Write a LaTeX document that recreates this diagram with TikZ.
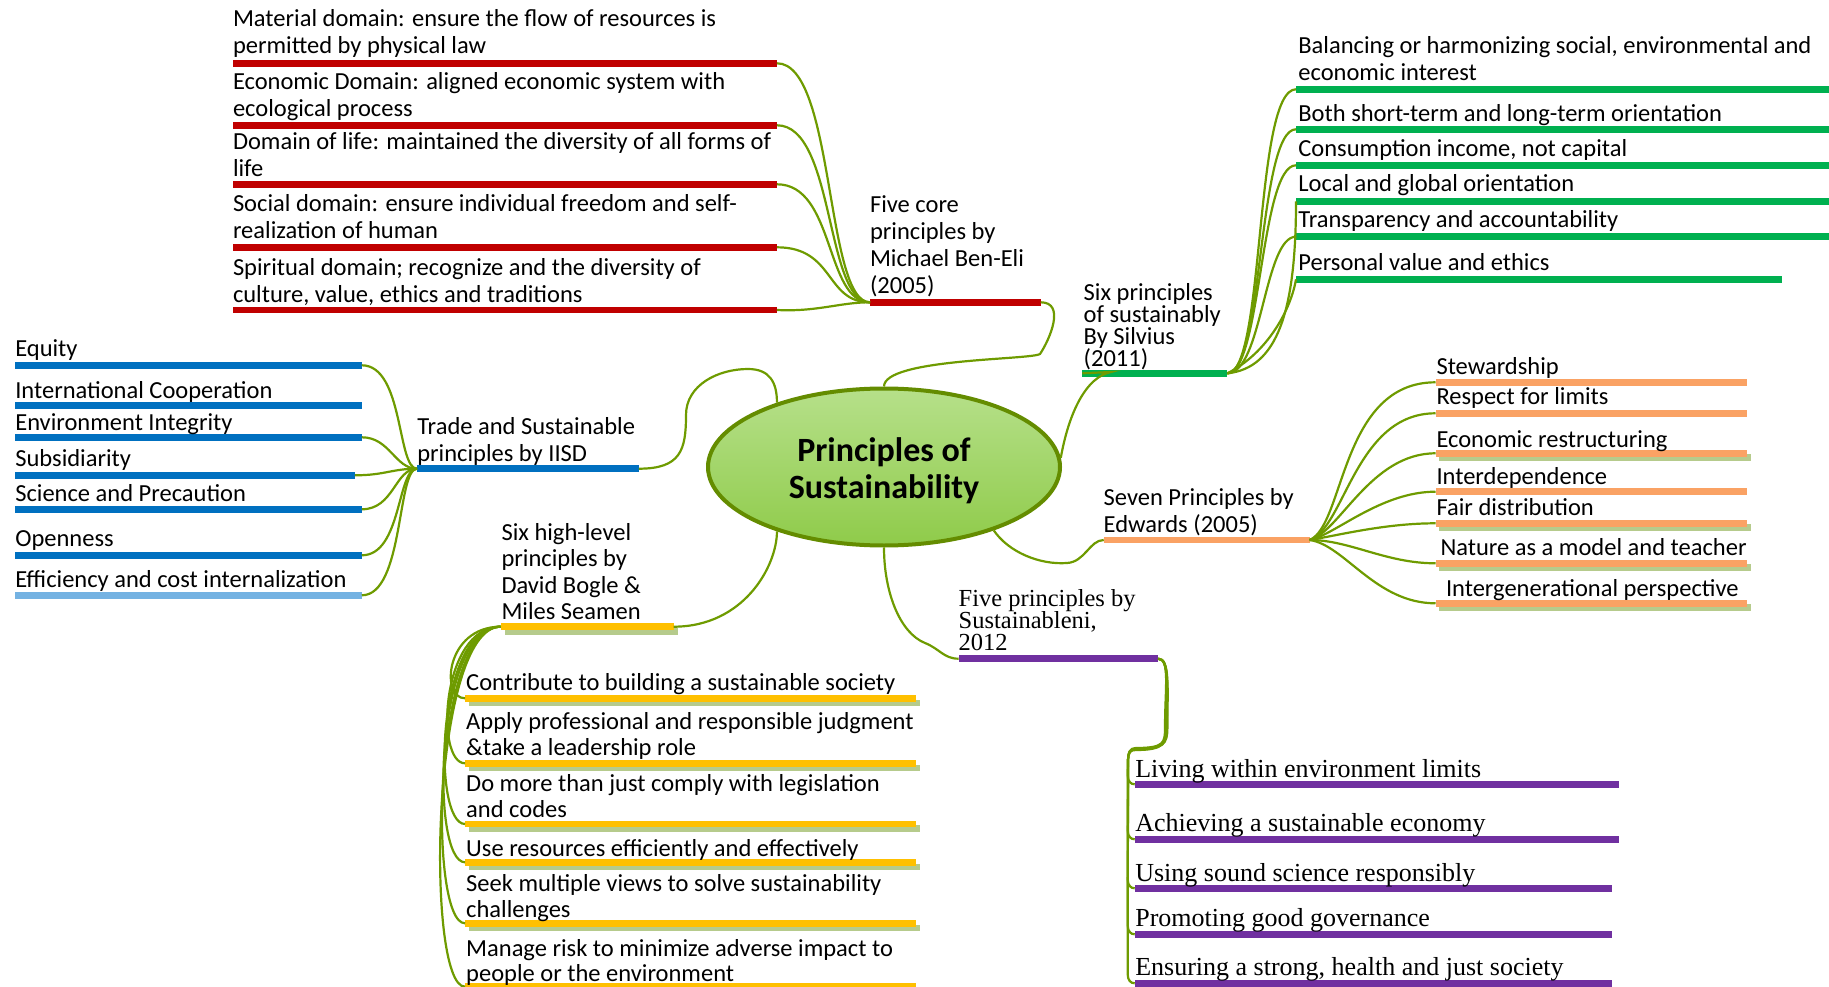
\documentclass[tikz,border=0pt]{standalone}
\usepackage{fontspec}
\setmainfont{Carlito}
\newfontfamily\serifface{Liberation Serif}
\usetikzlibrary{shapes.geometric,calc}

\definecolor{linkgreen}{HTML}{6E9B00}
\definecolor{rootrim}{HTML}{648C00}
\definecolor{rootlight}{HTML}{B6E08A}
\definecolor{rootdark}{HTML}{8FCB4A}
\definecolor{benred}{HTML}{C00000}
\definecolor{iisdblue}{HTML}{0070C0}
\definecolor{iisdlight}{HTML}{74B2E2}
\definecolor{silgreen}{HTML}{00B050}
\definecolor{edorange}{HTML}{FAA264}
\definecolor{bogyellow}{HTML}{FFC000}
\definecolor{snpurple}{HTML}{7030A0}
\definecolor{barshadow}{HTML}{B6CB8C}

% stacked lines with a fixed line pitch; baseline = last line
\newcommand\txtlines[1]{\vbox{\lineskiplimit=-\maxdimen\lineskip=0pt\let\\\cr\halign{##\hfil\cr#1\crcr}}}

\tikzset{
  link/.style={draw=linkgreen, line width=2.2pt},
  barnode/.style={draw=none, inner sep=0pt, outer sep=0pt, minimum height=6.5pt, anchor=west},
  txt/.style={anchor=base west, inner sep=0pt, outer sep=0pt, yshift=-1.5pt, font=\fontsize{24.5}{27}\selectfont},
  tighttxt/.style={txt, font=\fontsize{24.5}{22}\selectfont},
  sntxt/.style={txt, font=\serifface\fontsize{26}{21.7}\selectfont},
  snhead/.style={txt, font=\serifface\fontsize{24.5}{22}\selectfont},
  rootnode/.style={ellipse, minimum width=352pt, minimum height=157pt, inner sep=0pt,
    line width=4pt, draw=rootrim, top color=rootlight, bottom color=rootdark},
  roottext/.style={align=center, inner sep=0pt, font=\fontsize{34}{37}\selectfont\bfseries},
}

\begin{document}
\begin{tikzpicture}[x=1pt,y=-1pt]
\useasboundingbox (0,0) rectangle (1829,987);

% ---------- centre ----------
\node[rootnode] (root) at (884,467) {};
\node[roottext] (roott) at (884,471) {Principles of\\Sustainability};

% ---------- Ben-Eli (red) ----------
\node[barnode, fill=benred, minimum width=170.7pt] (be) at (870,302.3) {};
\node[txt] (bet) at (870,292) {\txtlines{Five core\\principles by\\Michael Ben-Eli\\(2005)}};

\node[barnode, fill=benred, minimum width=544pt] (r1) at (233,63.3) {};
\node[barnode, fill=benred, minimum width=544pt] (r2) at (233,125.3) {};
\node[barnode, fill=benred, minimum width=544pt] (r3) at (233,184.3) {};
\node[barnode, fill=benred, minimum width=544pt] (r4) at (233,247.3) {};
\node[barnode, fill=benred, minimum width=544pt] (r5) at (233,310) {};
\node[txt] (r1t) at (233,52) {\txtlines{Material domain: ensure the flow of resources is\\permitted by physical law}};
\node[txt] (r2t) at (233,115.3) {\txtlines{Economic Domain: aligned economic system with\\ecological process}};
\node[txt] (r3t) at (233,175.3) {\txtlines{Domain of life: maintained the diversity of all forms of\\life}};
\node[txt] (r4t) at (233,237) {\txtlines{Social domain: ensure individual freedom and self-\\realization of human}};
\node[txt] (r5t) at (233,301.3) {\txtlines{Spiritual domain; recognize and the diversity of\\culture, value, ethics and traditions}};

\foreach \c in {r1,r2,r3,r4}
  \draw[link] (\c.east) .. controls +(58,0) and +(-45,0) .. (be.west);
\draw[link] (r5.east) .. controls +(40,2) and +(-30,0) .. (be.west);
\draw[link] (be.east) .. controls +(25,0) and +(10,-15) .. (1040,354)
  .. controls +(-10,6) and +(0,-28) .. (root.north);

% ---------- Silvius (green) ----------
\node[barnode, fill=silgreen, minimum width=145pt] (sv) at (1082.3,373.3) {};
\node[tighttxt] (svt) at (1083.7,365.3) {\txtlines{Six principles\\of sustainably\\By Silvius\\(2011)}};

\node[barnode, fill=silgreen, minimum width=533pt] (g1) at (1296,89.3) {};
\node[barnode, fill=silgreen, minimum width=533pt] (g2) at (1296,129.3) {};
\node[barnode, fill=silgreen, minimum width=533pt] (g3) at (1296,165.3) {};
\node[barnode, fill=silgreen, minimum width=533pt] (g4) at (1296,201.3) {};
\node[barnode, fill=silgreen, minimum width=533pt] (g5) at (1296,236.7) {};
\node[barnode, fill=silgreen, minimum width=485.7pt] (g6) at (1296,279.3) {};
\node[txt] (g1t) at (1298.4,79.3) {\txtlines{Balancing or harmonizing social, environmental and\\economic interest}};
\node[txt] (g2t) at (1298.4,119.7) {Both short-term and long-term orientation};
\node[txt] (g3t) at (1298.4,154.7) {Consumption income, not capital};
\node[txt] (g4t) at (1298.4,190.3) {Local and global orientation};
\node[txt] (g5t) at (1298.4,226) {Transparency and accountability};
\node[txt] (g6t) at (1298.4,269.3) {Personal value and ethics};

\draw[link] (sv.east) .. controls +(38,0) and +(-42,0) .. (g1.west);
\draw[link] (sv.east) .. controls +(36,0) and +(-38,0) .. (g2.west);
\draw[link] (sv.east) .. controls +(34,0) and +(-36,0) .. (g3.west);
\draw[link] (sv.east) .. controls +(50,-5) and +(0,110) .. (g4.west);
\draw[link] (sv.east) .. controls +(35,0) and +(-32,0) .. (g5.west);
\draw[link] (sv.east) .. controls +(40,-20) and +(-5,30) .. (g6.west);
\draw[link] (root.3) .. controls +(8,-45) and +(-25,5) .. (1111,372) -- (sv.west);

% ---------- IISD (blue) ----------
\node[barnode, fill=iisdblue, minimum width=221.8pt] (td) at (417,468.7) {};
\node[txt] (tdt) at (417.3,459.7) {\txtlines{Trade and Sustainable\\principles by IISD}};

\node[barnode, fill=iisdblue, minimum width=347pt] (b1) at (14.8,365.3) {};
\node[barnode, fill=iisdblue, minimum width=347pt] (b2) at (14.8,405.7) {};
\node[barnode, fill=iisdblue, minimum width=347pt] (b3) at (14.8,437.3) {};
\node[barnode, fill=iisdblue, minimum width=340pt] (b4) at (14.8,475.3) {};
\node[barnode, fill=iisdblue, minimum width=347pt] (b5) at (14.8,509.3) {};
\node[barnode, fill=iisdblue, minimum width=347pt] (b6) at (14.8,555.3) {};
\node[barnode, fill=iisdlight, minimum width=347pt] (b7) at (14.8,595.3) {};
\node[txt] (b1t) at (15.3,355.3) {Equity};
\node[txt] (b2t) at (15.3,397) {International Cooperation};
\node[txt] (b3t) at (15.3,428.7) {Environment Integrity};
\node[txt] (b4t) at (15.3,465.3) {Subsidiarity};
\node[txt] (b5t) at (15.3,499.7) {Science and Precaution};
\node[txt] (b6t) at (15.3,545.3) {Openness};
\node[txt] (b7t) at (15.3,586.3) {Efficiency and cost internalization};

\draw[link] (b1.east) .. controls +(42,0) and +(-20,0) .. (td.west);
\draw[link] (b3.east) .. controls +(28,0) and +(-22,0) .. (td.west);
\draw[link] (b4.east) .. controls +(30,0) and +(-25,0) .. (td.west);
\draw[link] (b5.east) .. controls +(32,0) and +(-22,0) .. (td.west);
\draw[link] (b6.east) .. controls +(40,0) and +(-20,0) .. (td.west);
\draw[link] (b7.east) .. controls +(42,0) and +(-20,0) .. (td.west);
\draw[link] (td.east) .. controls +(42,0) and +(0,35) .. (686,415)
  .. controls +(0,-30) and +(-30,0) .. (748,369)
  .. controls +(22,0) and +(0,-20) .. (root.149);

% ---------- Bogle & Seamen (yellow) ----------
\node[barnode, fill=barshadow, minimum width=173pt] (bgs) at (504.8,631.4) {};
\node[barnode, fill=bogyellow, minimum width=173pt] (bg) at (500.6,626.7) {};
\node[txt, font=\fontsize{24.5}{26.5}\selectfont] (bgt) at (501.5,618) {\txtlines{Six high-level\\principles by\\David Bogle \&\\Miles Seamen}};

\foreach \n/\y in {y1/698.3, y2/763.3, y3/824, y4/862.3, y5/923.3, y6/986.7}{
  \node[barnode, fill=barshadow, minimum width=450.5pt] (\n s) at (469.2,\y+4.7) {};
  \node[barnode, fill=bogyellow, minimum width=450.5pt] (\n) at (465,\y) {};
}
\node[txt] (y1t) at (466.2,689.3) {Contribute to building a sustainable society};
\node[txt, font=\fontsize{24.5}{26}\selectfont] (y2t) at (466.2,753.7) {\txtlines{Apply professional and responsible judgment\\\&take a leadership role}};
\node[txt, font=\fontsize{24.5}{26.6}\selectfont] (y3t) at (466.2,816.3) {\txtlines{Do more than just comply with legislation\\and codes}};
\node[txt] (y4t) at (466.2,854.7) {Use resources efficiently and effectively};
\node[txt, font=\fontsize{24.5}{26.6}\selectfont] (y5t) at (466.2,916.3) {\txtlines{Seek multiple views to solve sustainability\\challenges}};
\node[txt, font=\fontsize{24.5}{25.6}\selectfont] (y6t) at (466.2,980.3) {\txtlines{Manage risk to minimize adverse impact to\\people or the environment}};

\draw[link] (bg.west) .. controls +(-55,0) and +(-25,0) .. (y1.west);
\draw[link] (bg.west) .. controls +(-60,0) and +(-30,0) .. (y2.west);
\draw[link] (bg.west) .. controls +(-65,0) and +(-33,0) .. (y3.west);
\draw[link] (bg.west) .. controls +(-66,0) and +(-35,0) .. (y4.west);
\draw[link] (bg.west) .. controls +(-68,0) and +(-37,0) .. (y5.west);
\draw[link] (bg.west) .. controls +(-70,0) and +(-40,0) .. (y6.west);
\draw[link] (bg.east) .. controls +(70,0) and +(0,35) .. (root.211);

% ---------- Edwards (orange) ----------
\node[barnode, fill=edorange, minimum width=206pt] (ed) at (1103.7,540) {};
\node[txt] (edt) at (1103.7,531.3) {\txtlines{Seven Principles by\\Edwards (2005)}};

\foreach \n/\y in {o3/453.3, o5/523.3, o6/563.3, o7/603.3}
  \node[barnode, fill=barshadow, minimum width=311.5pt] (\n s) at (1439,\y+4) {};
\foreach \n/\y in {o1/382.3, o2/413.3, o3/453.3, o4/491.7, o5/523.3, o6/563.3, o7/603.3}
  \node[barnode, fill=edorange, minimum width=311.5pt] (\n) at (1435.5,\y) {};
\node[txt] (o1t) at (1436.5,372.7) {Stewardship};
\node[txt] (o2t) at (1436.5,403) {Respect for limits};
\node[txt] (o3t) at (1436.5,446) {Economic restructuring};
\node[txt] (o4t) at (1436.5,482.7) {Interdependence};
\node[txt] (o5t) at (1436.5,514.3) {Fair distribution};
\node[txt] (o6t) at (1440.5,553.7) {Nature as a model and teacher};
\node[txt] (o7t) at (1446,594.7) {Intergenerational perspective};

\draw[link] (ed.east) .. controls +(35,-15) and +(-95,0) .. (o1.west);
\draw[link] (ed.east) .. controls +(35,-12) and +(-80,0) .. (o2.west);
\draw[link] (ed.east) .. controls +(30,-8) and +(-65,0) .. (o3.west);
\draw[link] (ed.east) .. controls +(25,-5) and +(-55,0) .. (o4.west);
\draw[link] (ed.east) .. controls +(30,-5) and +(-50,0) .. (o5.west);
\draw[link] (ed.east) .. controls +(40,0) and +(-50,0) .. (o6.west);
\draw[link] (ed.east) .. controls +(35,5) and +(-60,0) .. (o7.west);
\draw[link] (root.330) .. controls +(15,22) and +(-27,2) .. (1067,563)
  .. controls +(18,-1) and +(-14,0) .. (ed.west);

% ---------- Sustainableni (purple) ----------
\node[barnode, fill=snpurple, minimum width=199.5pt] (sn) at (958.7,658.7) {};
\node[snhead] (snt) at (958.7,649) {\txtlines{Five principles by\\Sustainableni,\\2012}};

\node[barnode, fill=snpurple, minimum width=484.5pt] (p1) at (1134.7,784.3) {};
\node[barnode, fill=snpurple, minimum width=484.5pt] (p2) at (1134.7,839.3) {};
\node[barnode, fill=snpurple, minimum width=477.6pt] (p3) at (1134.7,888.3) {};
\node[barnode, fill=snpurple, minimum width=477.6pt] (p4) at (1134.7,934.3) {};
\node[barnode, fill=snpurple, minimum width=477.6pt] (p5) at (1134.7,983.3) {};
\node[sntxt] (p1t) at (1135.3,776.3) {Living within environment limits};
\node[sntxt] (p2t) at (1135.3,830.3) {Achieving a sustainable economy};
\node[sntxt] (p3t) at (1135.3,879.7) {Using sound science responsibly};
\node[sntxt] (p4t) at (1135.3,925.3) {Promoting good governance};
\node[sntxt] (p5t) at (1135.3,974.3) {Ensuring a strong, health and just society};

\foreach \n/\k in {p1/0, p2/1, p3/2, p4/3, p5/4}
  \draw[link] (sn.east) .. controls +(12,0) and +(0,-40) .. (1165+\k*0.6,728)
    .. controls +(0,15) and +(28,0) .. (1136,748+\k*0.5)
    .. controls +(-6,0) and +(0,-10) .. (1128,762)
    -- ($(\n.west)+(-7,-9)$) .. controls +(0,6) and +(-4,0) .. (\n.west);
\draw[link] (root.south) .. controls +(0,45) and +(-25,-10) .. (925,643)
  .. controls +(15,6) and +(-15,0) .. (sn.west);

\end{tikzpicture}
\end{document}
